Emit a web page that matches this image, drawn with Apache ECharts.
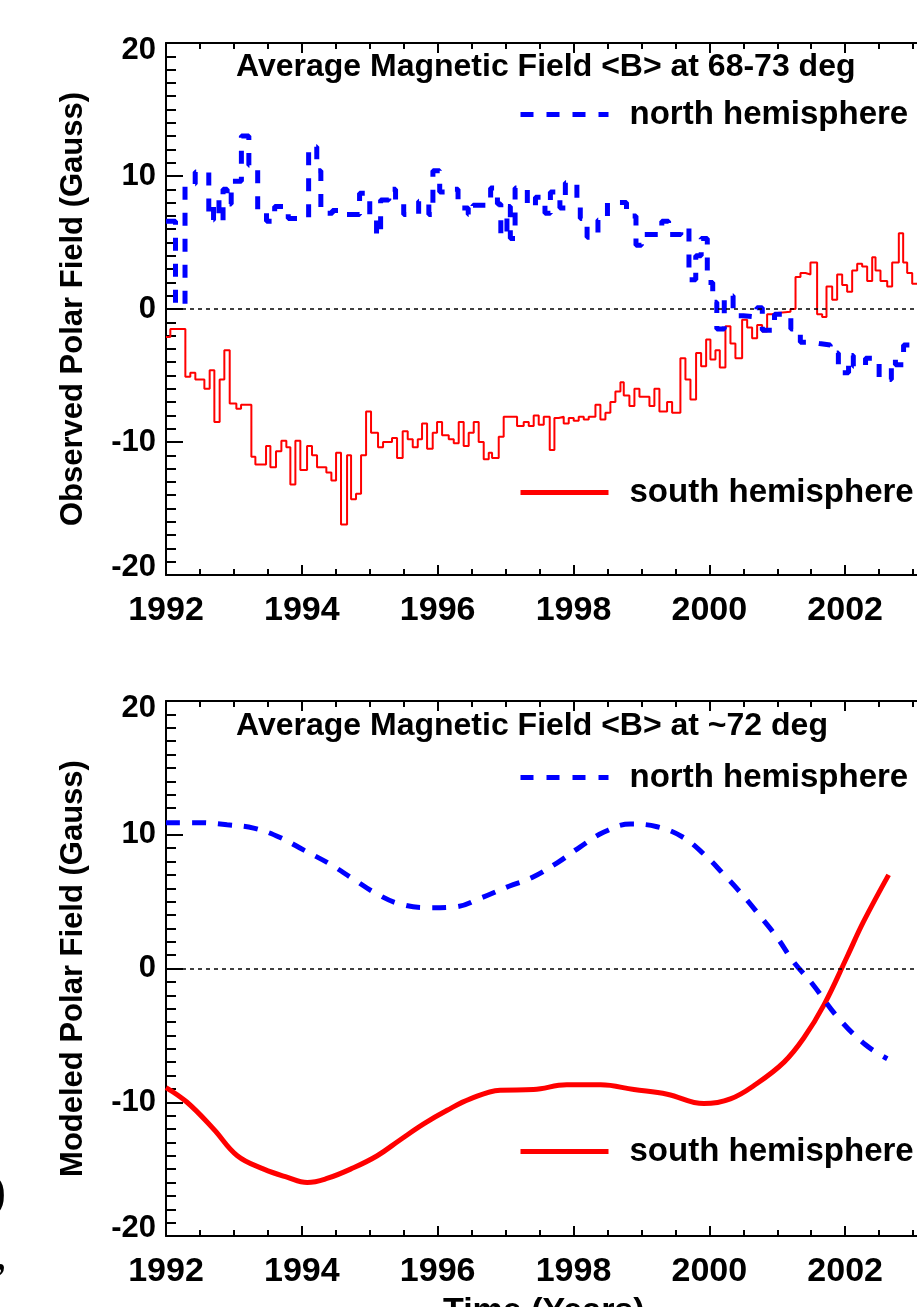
<!DOCTYPE html>
<html>
<head>
<meta charset="utf-8">
<script src="https://cdn.jsdelivr.net/npm/echarts@6/dist/echarts.min.js"></script>
<style>
html,body{margin:0;padding:0;background:#fff;}
#chart{width:917px;height:1307px;}
</style>
</head>
<body>
<div id="chart"></div>
<script>
// ---------- Observed (top panel), step data: start year of each interval and its value ----------
const northObsYears = [1992.00,1992.14,1992.28,1992.43,1992.63,1992.70,1992.78,1992.84,1992.90,1992.96,
  1993.11,1993.22,1993.35,1993.48,1993.60,1993.80,1994.10,1994.22,1994.28,1994.45,1994.62,1994.85,
  1995.00,1995.10,1995.16,1995.28,1995.38,1995.50,1995.72,1995.87,1995.93,1996.03,1996.19,1996.30,
  1996.45,1996.52,1996.78,1996.88,1996.93,1997.02,1997.07,1997.14,1997.32,1997.44,1997.58,1997.66,
  1997.80,1997.88,1998.05,1998.10,1998.20,1998.36,1998.50,1998.78,1998.92,1999.00,1999.30,1999.40,
  1999.58,1999.70,1999.80,1999.88,1999.97,2000.05,2000.11,2000.22,2000.35,2000.50,2000.70,2000.78,
  2000.96,2001.20,2001.34,2001.50,2001.62,2001.78,2001.90,2002.05,2002.12,2002.30,2002.50,2002.68,
  2002.74,2002.86,2003.00,2003.10];
const northObsValues = [6.6,0.3,9.4,10.3,6.7,8.2,6.6,9.0,7.9,9.6,
  13.0,10.8,7.3,6.6,7.7,6.8,12.2,10.4,7.2,7.4,7.1,8.7,
  6.9,5.5,8.2,9.0,8.0,7.1,8.1,7.1,10.4,8.8,9.0,7.6,
  7.1,7.8,9.1,7.9,5.5,7.7,5.3,9.1,7.7,8.4,7.2,8.8,
  7.6,9.5,8.0,6.8,5.4,6.7,8.0,7.0,4.8,5.6,6.6,5.6,
  6.1,2.2,4.0,5.3,2.0,0.5,-1.5,1.0,-0.5,-0.6,0.1,-1.6,
  -0.4,-1.5,-2.5,-2.6,-2.7,-3.3,-4.8,-3.5,-4.3,-3.7,-5.3,-3.8,
  -4.2,-2.7,-2.8,-2.8];

const southObsYears = [1992.000,1992.064,1992.285,1992.358,1992.432,1992.565,1992.643,1992.712,1992.790,1992.859,
  1992.938,1993.036,1993.105,1993.257,1993.316,1993.473,1993.537,1993.620,1993.699,1993.772,
  1993.831,1993.905,1993.978,1994.077,1994.150,1994.224,1994.361,1994.435,1994.504,1994.577,
  1994.666,1994.725,1994.798,1994.872,1994.946,1995.019,1995.122,1995.196,1995.328,1995.402,
  1995.485,1995.559,1995.633,1995.707,1995.770,1995.844,1995.927,1995.991,1996.065,1996.163,
  1996.237,1996.310,1996.383,1996.457,1996.531,1996.604,1996.678,1996.752,1996.801,1996.899,
  1996.972,1997.169,1997.267,1997.341,1997.414,1997.488,1997.562,1997.650,1997.719,1997.783,
  1997.856,1997.930,1998.003,1998.077,1998.151,1998.224,1998.323,1998.396,1998.470,1998.543,
  1998.617,1998.691,1998.740,1998.823,1998.897,1998.971,1999.044,1999.118,1999.191,1999.265,
  1999.378,1999.452,1999.574,1999.648,1999.722,1999.805,1999.879,1999.953,2000.016,2000.090,
  2000.154,2000.237,2000.311,2000.384,2000.483,2000.557,2000.630,2000.704,2000.777,2000.851,
  2000.925,2000.998,2001.195,2001.269,2001.342,2001.416,2001.489,2001.587,2001.661,2001.725,
  2001.809,2001.882,2001.956,2002.029,2002.103,2002.177,2002.250,2002.324,2002.398,2002.447,
  2002.520,2002.619,2002.692,2002.790,2002.854,2002.913,2002.987,2003.100];
const southObsValues = [-2.1,-1.5,-5.1,-4.8,-5.3,-6.0,-4.6,-8.5,-5.3,-3.1,
  -7.1,-7.5,-7.2,-11.1,-11.7,-10.3,-11.9,-10.7,-9.9,-10.4,
  -13.2,-9.9,-12.1,-10.3,-11.0,-11.9,-12.3,-12.9,-10.8,-16.2,
  -11.0,-14.3,-13.9,-11.0,-7.7,-9.3,-10.4,-10.0,-9.7,-11.2,
  -9.2,-9.8,-10.4,-9.8,-8.6,-10.5,-9.3,-8.5,-9.5,-9.8,
  -10.1,-8.5,-10.3,-9.3,-8.5,-10.0,-11.3,-10.8,-11.2,-9.6,
  -8.1,-8.8,-8.5,-8.8,-8.0,-8.7,-8.1,-10.6,-8.2,-8.1,
  -8.6,-8.2,-8.4,-8.1,-8.3,-8.1,-7.2,-8.3,-7.8,-7.0,
  -6.2,-5.5,-6.5,-7.3,-6.0,-6.6,-6.6,-7.3,-6.0,-7.7,
  -7.0,-7.8,-3.7,-5.3,-6.8,-3.3,-4.3,-2.3,-3.8,-3.1,
  -4.4,-1.3,-2.6,-3.7,-0.8,-1.4,-2.2,-1.2,-1.7,-0.4,
  -0.3,-0.2,0.0,2.4,2.7,2.6,3.5,-0.4,-0.6,1.7,
  0.7,2.6,1.8,1.3,2.9,3.4,3.2,2.1,3.9,2.9,
  2.1,1.7,3.5,5.7,3.5,2.7,1.9,1.9];

// ---------- Modeled (bottom panel) ----------
const northModelYears = [1992.0,1992.5,1992.9,1993.29,1993.68,1994.03,1994.4,1994.74,1995.08,1995.43,1995.84,
  1996.24,1996.65,1997.05,1997.39,1997.76,1998.1,1998.45,1998.84,1999.23,1999.6,1999.92,2000.21,2000.48,
  2000.75,2001.0,2001.24,2001.51,2001.9,2002.3,2002.62];
const northModelValues = [10.9,10.9,10.75,10.5,9.8,8.85,7.85,6.75,5.65,4.85,4.55,
  4.6,5.3,6.15,6.8,7.9,9.1,10.2,10.8,10.6,9.85,8.55,7.05,5.55,
  3.9,2.3,0.5,-1.1,-3.7,-5.7,-6.75];
const southModelYears = [1992.0,1992.31,1992.7,1993.05,1993.44,1993.78,1994.08,1994.37,1994.76,1995.11,1995.45,
  1995.8,1996.14,1996.48,1996.92,1997.41,1997.9,1998.4,1998.89,1999.38,1999.92,2000.31,2000.7,2001.1,
  2001.39,2001.69,2002.03,2002.27,2002.64];
const southModelValues = [-8.9,-10.0,-12.0,-14.0,-15.0,-15.6,-16.0,-15.7,-14.9,-14.0,-12.8,
  -11.6,-10.6,-9.75,-9.1,-9.05,-8.7,-8.7,-9.05,-9.4,-10.1,-9.75,-8.6,-7.0,
  -5.2,-2.7,0.9,3.5,7.0];

const panelTitles = ['Average Magnetic Field <B> at 68-73 deg', 'Average Magnetic Field <B> at ~72 deg'];
const yNames = ['Observed Polar Field (Gauss)', 'Modeled Polar Field (Gauss)'];
const seriesNames = ['north hemisphere', 'south hemisphere'];
const xName = 'Time (Years)';

const zip = (xs, ys) => xs.map((x, i) => [x, ys[i]]);
const FONT = '"Liberation Sans", Arial, Helvetica, sans-serif';
const BLACK = '#000';

const grids = [
  {left: 166, top: 43, width: 815, height: 532, outerBoundsMode: 'none', containLabel: false},
  {left: 166, top: 701, width: 815, height: 535, outerBoundsMode: 'none', containLabel: false}
];

function xAxisFor(g, pos) {
  return {
    type: 'value', gridIndex: g, position: pos, min: 1992, max: 2004, interval: 2,
    axisLine: {show: true, onZero: false, lineStyle: {color: BLACK, width: 2}},
    axisTick: {show: true, inside: true, length: 10, lineStyle: {color: BLACK, width: 2}},
    minorTick: {show: true, splitNumber: 4, length: 6, lineStyle: {color: BLACK, width: 2}},
    splitLine: {show: false}, minorSplitLine: {show: false},
    axisLabel: {show: pos === 'bottom', margin: 19, color: BLACK, fontSize: 34, fontWeight: 'bold',
      fontFamily: FONT, showMaxLabel: false, formatter: v => String(v)}
  };
}
const yLabelRich = {
  lo: {fontSize: 31, fontWeight: 'bold', fontFamily: FONT, color: BLACK, padding: [0, 0, 16, 0]},
  hi: {fontSize: 31, fontWeight: 'bold', fontFamily: FONT, color: BLACK, padding: [14, 0, 0, 0]}
};
function yAxisFor(g, name) {
  return {
    type: 'value', gridIndex: g, position: 'left', min: -20, max: 20, interval: 10,
    axisLine: {show: true, onZero: false, lineStyle: {color: BLACK, width: 2}},
    axisTick: {show: true, inside: true, length: 17, lineStyle: {color: BLACK, width: 2}},
    minorTick: {show: true, splitNumber: 10, length: 10, lineStyle: {color: BLACK, width: 2}},
    splitLine: {show: false}, minorSplitLine: {show: false},
    axisLabel: {margin: 10, color: BLACK, fontSize: 31, fontWeight: 'bold', fontFamily: FONT,
      rich: yLabelRich,
      formatter: v => v === -20 ? '{lo|' + v + '}' : (v === 20 ? '{hi|' + v + '}' : String(v))},
    name: name, nameLocation: 'middle', nameRotate: 90, nameGap: 77,
    nameTextStyle: {color: BLACK, fontSize: 31, fontWeight: 'bold', fontFamily: FONT}
  };
}
const zeroLine = {
  silent: true, symbol: 'none', label: {show: false},
  lineStyle: {color: BLACK, type: [4, 4], width: 1.5},
  data: [{yAxis: 0}]
};
function legendFor(name, top) {
  return {
    data: [name], left: 518, top: top, orient: 'horizontal', padding: 0,
    itemWidth: 88, itemHeight: 12, selectedMode: false,
    itemStyle: {opacity: 0},
    lineStyle: {width: 5},
    textStyle: {color: BLACK, fontSize: 33, fontWeight: 'bold', fontFamily: FONT, padding: [0, 0, 6, 16]}
  };
}

const option = {
  animation: false,
  backgroundColor: '#fff',
  grid: grids,
  title: [
    {text: panelTitles[0], left: 236, top: 51, padding: 0,
     textStyle: {color: BLACK, fontSize: 32, fontWeight: 'bold', fontFamily: FONT}},
    {text: panelTitles[1], left: 236, top: 710, padding: 0,
     textStyle: {color: BLACK, fontSize: 32, fontWeight: 'bold', fontFamily: FONT}}
  ],
  legend: [
    legendFor(seriesNames[0], 98),
    legendFor(seriesNames[1], 476),
    legendFor(seriesNames[0], 761),
    legendFor(seriesNames[1], 1135)
  ],
  xAxis: [xAxisFor(0, 'bottom'), xAxisFor(0, 'top'), xAxisFor(1, 'bottom'), xAxisFor(1, 'top')],
  yAxis: [yAxisFor(0, yNames[0]), yAxisFor(1, yNames[1])],
  series: [
    {name: seriesNames[0], type: 'line', xAxisIndex: 0, yAxisIndex: 0, step: 'end',
     symbol: 'none', color: '#0000ff', z: 3,
     lineStyle: {color: '#0000ff', width: 5, type: [13, 13]},
     data: zip(northObsYears, northObsValues), markLine: zeroLine},
    {name: seriesNames[1], type: 'line', xAxisIndex: 0, yAxisIndex: 0, step: 'end',
     symbol: 'none', color: '#ff0000', z: 2,
     lineStyle: {color: '#ff0000', width: 2},
     data: zip(southObsYears, southObsValues)},
    {name: seriesNames[0], type: 'line', xAxisIndex: 2, yAxisIndex: 1, smooth: 0.4,
     symbol: 'none', color: '#0000ff', z: 3,
     lineStyle: {color: '#0000ff', width: 5, type: [14, 12]},
     data: zip(northModelYears, northModelValues), markLine: zeroLine},
    {name: seriesNames[1], type: 'line', xAxisIndex: 2, yAxisIndex: 1, smooth: 0.4,
     symbol: 'none', color: '#ff0000', z: 2,
     lineStyle: {color: '#ff0000', width: 5},
     data: zip(southModelYears, southModelValues)}
  ],
  graphic: [
    {type: 'text', left: 443, top: 1295, silent: true,
     style: {text: xName, fill: BLACK, font: 'bold 34px ' + FONT}},
    {type: 'text', left: -10, top: 1170, silent: true,
     style: {text: ')', fill: BLACK, font: '48px "Liberation Serif", serif'}},
    {type: 'text', left: -5, top: 1232, silent: true,
     style: {text: ',', fill: BLACK, font: '48px "Liberation Serif", serif'}}
  ]
};

const chart = echarts.init(document.getElementById('chart'), null, {renderer: 'canvas'});
chart.setOption(option);
</script>
</body>
</html>
